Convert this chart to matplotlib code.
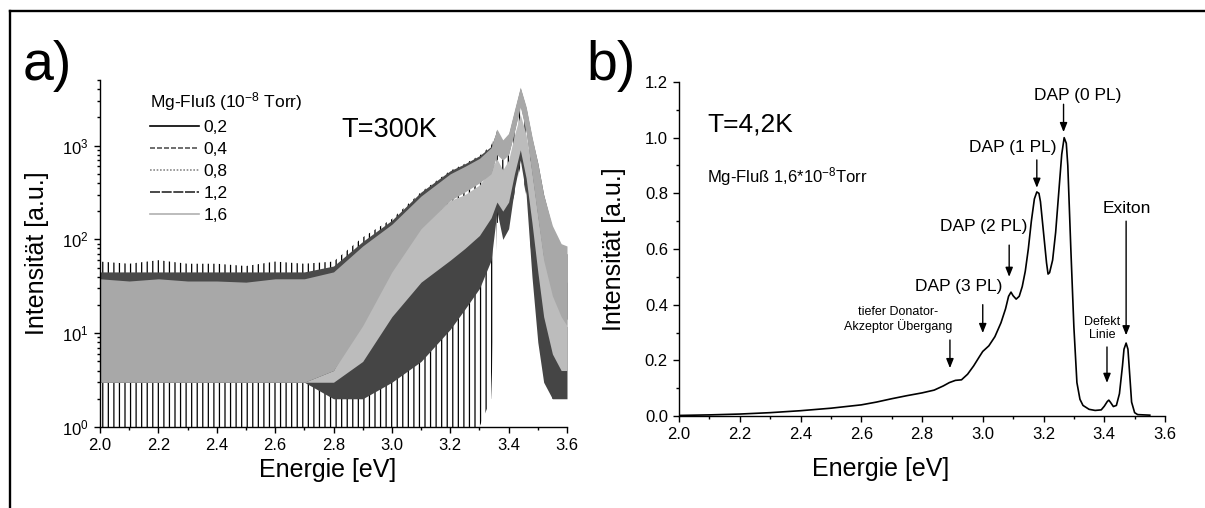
import matplotlib
matplotlib.use('Agg')
import matplotlib.pyplot as plt
from matplotlib.lines import Line2D
from matplotlib.ticker import MultipleLocator, FormatStrFormatter, LogLocator, NullFormatter

plt.rcParams['font.family'] = ['Liberation Sans', 'DejaVu Sans']
plt.rcParams['mathtext.fontset'] = 'custom'
plt.rcParams['mathtext.rm'] = 'Liberation Sans'
plt.rcParams['mathtext.it'] = 'Liberation Sans:italic'
plt.rcParams['mathtext.bf'] = 'Liberation Sans:bold'
plt.rcParams['hatch.linewidth'] = 0.9

# ---------------- panel a) : 300 K spectra (noise envelopes read from picture) -------------
energy_a = [2.0, 2.1, 2.2, 2.3, 2.4, 2.5, 2.6, 2.7, 2.8, 2.9, 3.0, 3.1, 3.2, 3.25, 3.3,
            3.34, 3.36, 3.38, 3.4, 3.42, 3.44, 3.46, 3.48, 3.5, 3.52, 3.55, 3.58, 3.6]

flux_labels = ['0,2', '0,4', '0,8', '1,2', '1,6']

# upper / lower envelope of each noisy spectrum
hi_02 = [58, 55, 60, 55, 55, 52, 58, 55, 58, 105, 165, 320, 540, 640, 780, 1000, 1450, 1100, 1250, 2000, 3500, 2000, 900, 500, 250, 110, 70, 60]
lo_02 = [1, 1, 1, 1, 1, 1, 1, 1, 1, 1, 1, 1, 1, 1, 1, 2, 150, 150, 180, 300, 600, 300, 60, 12, 4, 2, 2, 2]
hi_04 = [45, 45, 45, 45, 45, 45, 45, 45, 52, 95, 160, 320, 540, 640, 780, 980, 1450, 1100, 1300, 2300, 4100, 2500, 1200, 650, 300, 130, 80, 70]
lo_04 = [3, 3, 3, 3, 3, 3, 3, 3, 4, 15, 50, 140, 280, 340, 420, 520, 850, 720, 820, 1450, 2700, 1450, 520, 180, 65, 28, 17, 14]
hi_08 = [35, 35, 35, 35, 35, 35, 35, 35, 38, 45, 75, 140, 260, 300, 380, 560, 720, 550, 700, 1300, 2150, 1300, 550, 220, 100, 50, 35, 35]
lo_08 = [3, 3, 3, 3, 3, 3, 3, 3, 3, 5, 15, 35, 60, 80, 110, 170, 250, 200, 250, 500, 900, 450, 150, 45, 15, 6, 4, 4]
hi_12 = [30, 30, 30, 30, 30, 30, 30, 30, 30, 30, 30, 55, 80, 120, 200, 330, 520, 220, 300, 800, 1750, 900, 200, 60, 27, 14, 10, 12]
lo_12 = [3, 3, 3, 3, 3, 3, 3, 3, 2, 2, 3, 5, 11, 18, 30, 60, 200, 100, 130, 350, 700, 300, 40, 8, 3, 2, 2, 2]
hi_16 = [38, 36, 38, 36, 36, 35, 38, 38, 45, 85, 145, 290, 500, 600, 730, 950, 1500, 1150, 1350, 2400, 4200, 2600, 1250, 650, 300, 140, 90, 85]
lo_16 = [3, 3, 3, 3, 3, 3, 3, 3, 4, 12, 45, 130, 260, 320, 400, 500, 800, 700, 800, 1400, 2600, 1400, 500, 170, 60, 25, 15, 12]

# ---------------- panel b) : 4.2 K spectrum -------------
energy_b = [2.00, 2.10, 2.20, 2.30, 2.40, 2.50, 2.60, 2.65, 2.70, 2.75, 2.80, 2.84, 2.87, 2.89,
            2.91, 2.93, 2.95, 2.97, 2.99, 3.00, 3.02, 3.04, 3.06, 3.075, 3.085, 3.093, 3.10,
            3.11, 3.12, 3.13, 3.14, 3.15, 3.16, 3.17, 3.178, 3.185, 3.19, 3.20, 3.21, 3.215,
            3.22, 3.23, 3.24, 3.25, 3.26, 3.268, 3.275, 3.28, 3.29, 3.30, 3.31, 3.32, 3.33,
            3.35, 3.37, 3.39, 3.40, 3.41, 3.415, 3.42, 3.43, 3.44, 3.45, 3.46, 3.465, 3.472,
            3.478, 3.485, 3.49, 3.50, 3.51, 3.55]
intensity_b = [0.002, 0.004, 0.007, 0.012, 0.019, 0.028, 0.040, 0.050, 0.062, 0.073, 0.083, 0.093, 0.108, 0.120,
               0.128, 0.130, 0.150, 0.180, 0.215, 0.232, 0.252, 0.285, 0.335, 0.385, 0.430, 0.445, 0.432,
               0.420, 0.430, 0.465, 0.52, 0.60, 0.70, 0.78, 0.805, 0.80, 0.77, 0.66, 0.55, 0.51,
               0.515, 0.56, 0.66, 0.80, 0.94, 1.00, 0.98, 0.90, 0.60, 0.32, 0.12, 0.060, 0.038,
               0.024, 0.020, 0.022, 0.035, 0.052, 0.057, 0.050, 0.034, 0.038, 0.08, 0.18, 0.24, 0.262,
               0.24, 0.13, 0.05, 0.012, 0.005, 0.003]

peak_labels = ['DAP (0 PL)', 'DAP (1 PL)', 'DAP (2 PL)', 'DAP (3 PL)',
               'tiefer Donator-\nAkzeptor Übergang', 'Defekt\nLinie', 'Exiton']
peak_text_xy = [(3.312, 1.15), (3.10, 0.963), (3.003, 0.68), (2.922, 0.467),
                (2.72, 0.345), (3.392, 0.314), (3.475, 0.744)]
peak_arrow_x = [3.266, 3.178, 3.087, 3.0, 2.892, 3.409, 3.472]
peak_arrow_y = [(1.12, 1.02), (0.92, 0.82), (0.614, 0.50), (0.40, 0.298),
                (0.273, 0.172), (0.248, 0.119), (0.70, 0.29)]
peak_fontsize = [12.5, 12.5, 12.5, 12.5, 9, 9, 12.5]

W, H = 1205, 508
fig = plt.figure(figsize=(W / 100, H / 100), dpi=100)

# figure frame (only top and left edges visible)
fig.add_artist(Line2D([9.5 / W, 1.0], [1 - 10.5 / H, 1 - 10.5 / H], transform=fig.transFigure,
                      color='black', lw=1.7))
fig.add_artist(Line2D([9.5 / W, 9.5 / W], [0.0, 1 - 10.5 / H], transform=fig.transFigure,
                      color='black', lw=1.7))

axL = fig.add_axes([100 / W, 1 - 427 / H, 467 / W, 347 / H])
axR = fig.add_axes([679 / W, 1 - 416 / H, 486 / W, 334 / H])

# ---- left panel ----
axL.set_yscale('log')
axL.fill_between(energy_a, lo_02, hi_02, facecolor='none', edgecolor='black', hatch='|||', lw=0)
axL.fill_between(energy_a, lo_12, hi_12, color='#454545', lw=0)
axL.fill_between(energy_a, lo_08, hi_08, color='#bcbcbc', lw=0)
axL.fill_between(energy_a, lo_04, hi_04, color='#4a4a4a', lw=0)
axL.fill_between(energy_a, lo_16, hi_16, color='#a8a8a8', lw=0)

axL.set_xlim(2.0, 3.6)
axL.set_ylim(1, 5000)
axL.xaxis.set_major_locator(MultipleLocator(0.2))
axL.xaxis.set_minor_locator(MultipleLocator(0.1))
axL.xaxis.set_major_formatter(FormatStrFormatter('%.1f'))
axL.yaxis.set_major_locator(LogLocator(base=10, numticks=10))
axL.yaxis.set_minor_locator(LogLocator(base=10, subs=range(2, 10), numticks=20))
axL.yaxis.set_minor_formatter(NullFormatter())

series_colors = ['black', '#555555', '#8a8a8a', '#2a2a2a', '#b0b0b0']
series_styles = ['-', (0, (3, 1.2)), (0, (1, 1)), (0, (6, 1)), '-']
handles = [Line2D([], [], color=c, ls=s, lw=1.2) for c, s in zip(series_colors, series_styles)]
leg = axL.legend(handles, flux_labels, title='Mg-Fluß (10$^{\\mathdefault{-8}}$ Torr)',
                 loc='upper left', bbox_to_anchor=(0.107, 0.972), frameon=False,
                 fontsize=12.5, title_fontsize=12.5, handlelength=2.8, handletextpad=0.3,
                 labelspacing=0.4, borderaxespad=0, borderpad=0, alignment='left')
axL.text(0.619, 0.856, 'T=300K', transform=axL.transAxes, fontsize=19.5, ha='center', va='center')

axL.set_ylabel('Intensität [a.u.]', fontsize=18)
axL.yaxis.set_label_coords(-0.11, 0.5)
axL.set_xlabel('Energie [eV]', fontsize=18)
axL.xaxis.set_label_coords(0.488, -0.088)

# ---- right panel ----
axR.plot(energy_b, intensity_b, color='black', lw=1.2)
axR.set_xlim(2.0, 3.6)
axR.set_ylim(0.0, 1.2)
axR.xaxis.set_major_locator(MultipleLocator(0.2))
axR.xaxis.set_minor_locator(MultipleLocator(0.1))
axR.xaxis.set_major_formatter(FormatStrFormatter('%.1f'))
axR.yaxis.set_major_locator(MultipleLocator(0.2))
axR.yaxis.set_minor_locator(MultipleLocator(0.1))
axR.yaxis.set_major_formatter(FormatStrFormatter('%.1f'))

for lab, (tx, ty), ax_x, (ya, yb), fs in zip(peak_labels, peak_text_xy, peak_arrow_x,
                                              peak_arrow_y, peak_fontsize):
    axR.text(tx, ty, lab, fontsize=fs, ha='center', va='center', linespacing=1.1)
    axR.annotate('', xy=(ax_x, yb), xytext=(ax_x, ya),
                 arrowprops=dict(arrowstyle='-|>,head_length=0.55,head_width=0.22',
                                 color='black', lw=1.0, shrinkA=0, shrinkB=0))

axR.text(2.092, 1.046, 'T=4,2K', fontsize=19, ha='left', va='center')
axR.text(2.092, 0.86, 'Mg-Fluß 1,6*10$^{\\mathdefault{-8}}$Torr', fontsize=12, ha='left', va='center')

axR.set_ylabel('Intensität [a.u.]', fontsize=18)
axR.yaxis.set_label_coords(-0.11, 0.5)
axR.set_xlabel('Energie [eV]', fontsize=18)
axR.xaxis.set_label_coords(0.414, -0.124)

for ax in (axL, axR):
    for side in ('top', 'right'):
        ax.spines[side].set_visible(False)
    for side in ('left', 'bottom'):
        ax.spines[side].set_linewidth(1.0)
    ax.tick_params(which='both', direction='out', top=False, right=False, width=1.0)
    ax.tick_params(which='major', length=4.5, labelsize=12, pad=3.5)
    ax.tick_params(which='minor', length=2.5)

fig.text(23 / W, 1 - 80 / H, 'a)', fontsize=40, ha='left', va='baseline')
fig.text(586 / W, 1 - 80 / H, 'b)', fontsize=40, ha='left', va='baseline')

fig.savefig('out.png', dpi=100)
